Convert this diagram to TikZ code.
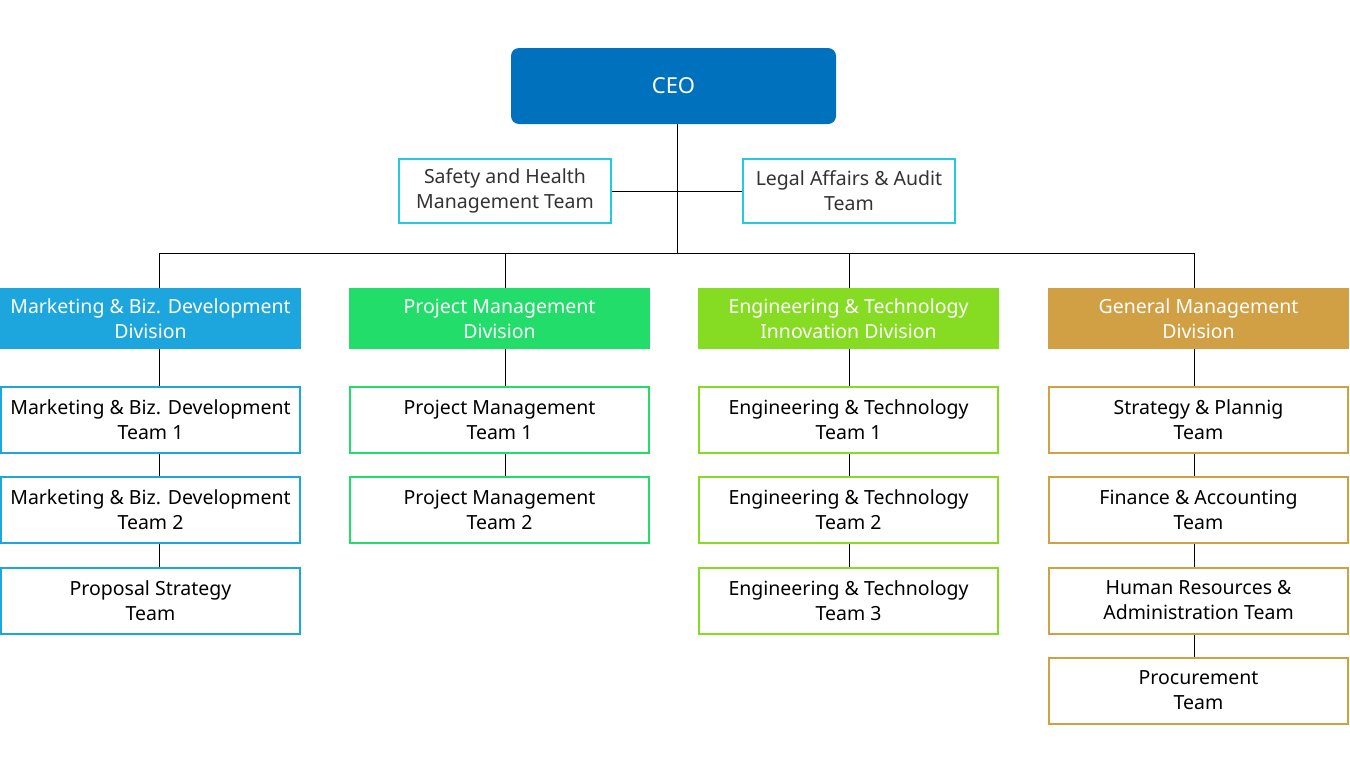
\documentclass[tikz,border=0pt]{standalone}
\usepackage{fontspec}
\setmainfont{Noto Sans}
\definecolor{ceoblue}{HTML}{0071BC}
\definecolor{staffcyan}{HTML}{22CCDC}
\definecolor{mktblue}{HTML}{1CA6DD}
\definecolor{pmgreen}{HTML}{22DD6A}
\definecolor{englime}{HTML}{86DC22}
\definecolor{gengold}{HTML}{D1A045}
\tikzset{
  divbox/.style={minimum width=301pt, minimum height=61pt, text=white, inner sep=0pt, align=center},
  teambox/.style={draw=#1, line width=2pt, minimum width=299pt, minimum height=66pt, inner sep=0pt, align=center},
  staffbox/.style={draw=staffcyan, line width=2pt, minimum width=212pt, minimum height=64pt, inner sep=0pt, align=center, text=black!80}
}
\begin{document}
\begin{tikzpicture}[x=1pt, y=-1pt, font=\fontsize{19.5}{25}\selectfont]
        \useasboundingbox (0,0) rectangle (1350,777);

        \node[fill=ceoblue, rounded corners=8pt, minimum width=325pt, minimum height=76pt, text=white, font=\fontsize{22}{26}\selectfont] (ceo) at (673.5,86) {CEO};
        \node[staffbox] (safety) at (505,191) {Safety and Health\\Management Team};
        \node[staffbox] (legal) at (849,191) {Legal Affairs \& Audit\\Team};

        \node[divbox, fill=mktblue] (div1) at (150.5,318.5) {Marketing \& Biz. Development\\Division};
        \node[divbox, fill=pmgreen] (div2) at (499.5,318.5) {Project Management\\Division};
        \node[divbox, fill=englime] (div3) at (848.5,318.5) {Engineering \& Technology\\Innovation Division};
        \node[divbox, fill=gengold] (div4) at (1198.5,318.5) {General Management\\Division};

        \node[teambox=mktblue] (mkt1) at (150.5,420) {Marketing \& Biz. Development\\Team 1};
        \node[teambox=mktblue] (mkt2) at (150.5,510) {Marketing \& Biz. Development\\Team 2};
        \node[teambox=mktblue] (mkt3) at (150.5,600.5) {Proposal Strategy\\Team};

        \node[teambox=pmgreen] (pm1) at (499.5,420) {Project Management\\Team 1};
        \node[teambox=pmgreen] (pm2) at (499.5,510) {Project Management\\Team 2};

        \node[teambox=englime] (eng1) at (848.5,420) {Engineering \& Technology\\Team 1};
        \node[teambox=englime] (eng2) at (848.5,510) {Engineering \& Technology\\Team 2};
        \node[teambox=englime] (eng3) at (848.5,600.5) {Engineering \& Technology\\Team 3};

        \node[teambox=gengold] (gen1) at (1198.5,420) {Strategy \& Plannig\\Team};
        \node[teambox=gengold] (gen2) at (1198.5,510) {Finance \& Accounting\\Team};
        \node[teambox=gengold] (gen3) at (1198.5,600.5) {Human Resources \&\\Administration Team};
        \node[teambox=gengold] (gen4) at (1198.5,690.5) {Procurement\\Team};

        % bus and drops
        \coordinate (top) at (677,253);
        \coordinate (bus1) at (159,253);
        \coordinate (bus2) at (505,253);
        \coordinate (bus3) at (849,253);
        \coordinate (bus4) at (1194,253);
        \draw (ceo.south -| top) -- (top);
        \draw (safety.east) -- (legal.west);
        \draw (bus1) -- (bus4);
        \draw (bus1) -- (bus1 |- div1.north);
        \draw (bus2) -- (bus2 |- div2.north);
        \draw (bus3) -- (bus3 |- div3.north);
        \draw (bus4) -- (bus4 |- div4.north);

        \draw (div1.south -| bus1) -- (mkt1.north -| bus1);
        \draw (mkt1.south -| bus1) -- (mkt2.north -| bus1);
        \draw (mkt2.south -| bus1) -- (mkt3.north -| bus1);

        \draw (div2.south -| bus2) -- (pm1.north -| bus2);
        \draw (pm1.south -| bus2) -- (pm2.north -| bus2);

        \draw (div3.south -| bus3) -- (eng1.north -| bus3);
        \draw (eng1.south -| bus3) -- (eng2.north -| bus3);
        \draw (eng2.south -| bus3) -- (eng3.north -| bus3);

        \draw (div4.south -| bus4) -- (gen1.north -| bus4);
        \draw (gen1.south -| bus4) -- (gen2.north -| bus4);
        \draw (gen2.south -| bus4) -- (gen3.north -| bus4);
        \draw (gen3.south -| bus4) -- (gen4.north -| bus4);
    \end{tikzpicture}
\end{document}
